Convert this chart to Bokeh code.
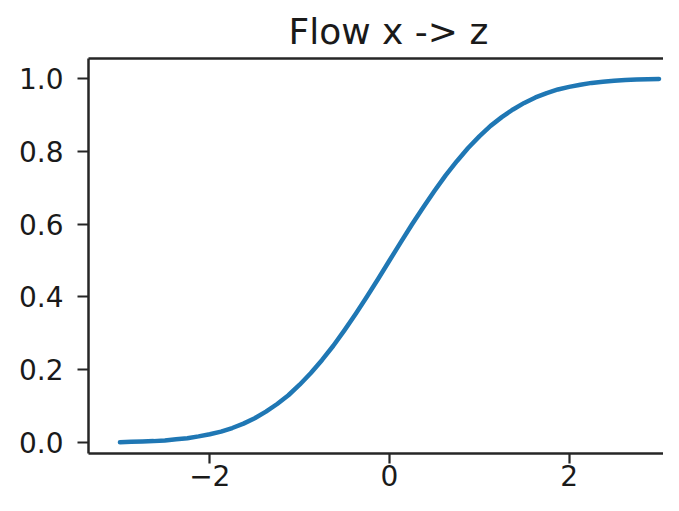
from bokeh.plotting import figure
from bokeh.models import Range1d, LinearAxis, FixedTicker, Title, NumeralTickFormatter
from bokeh.embed import file_html
from bokeh.resources import INLINE

# Data
x_vals = [-3.0, -2.875, -2.75, -2.625, -2.5, -2.375, -2.25, -2.125, -2.0, -1.875, -1.75, -1.625,
          -1.5, -1.375, -1.25, -1.125, -1.0, -0.875, -0.75, -0.625, -0.5, -0.375, -0.25, -0.125,
          0.0, 0.125, 0.25, 0.375, 0.5, 0.625, 0.75, 0.875, 1.0, 1.125, 1.25, 1.375,
          1.5, 1.625, 1.75, 1.875, 2.0, 2.125, 2.25, 2.375, 2.5, 2.625, 2.75, 2.875, 3.0]
z_vals = [0.001, 0.002, 0.003, 0.004, 0.006, 0.009, 0.012, 0.017, 0.023, 0.030, 0.040, 0.052,
          0.067, 0.085, 0.106, 0.130, 0.159, 0.191, 0.227, 0.266, 0.309, 0.354, 0.401, 0.450,
          0.500, 0.550, 0.599, 0.646, 0.691, 0.734, 0.773, 0.809, 0.841, 0.870, 0.894, 0.915,
          0.933, 0.948, 0.960, 0.970, 0.977, 0.983, 0.988, 0.991, 0.994, 0.996, 0.997, 0.998, 0.999]
x_ticks = [-2, 0, 2]
x_tick_labels = {-2: "\u22122", 0: "0", 2: "2"}
y_ticks = [0.0, 0.2, 0.4, 0.6, 0.8, 1.0]
title_text = "Flow x -> z"

FONT = "DejaVu Sans"
AX = "#262626"

p = figure(width=663, height=495, output_backend="svg", toolbar_location=None,
           x_range=Range1d(-3.35, 3.05), y_range=Range1d(-0.030, 1.055),
           x_axis_location=None, y_axis_location=None,
           min_border_left=88, min_border_right=0, min_border_top=58, min_border_bottom=42)
p.outline_line_color = None
p.grid.visible = False
p.background_fill_color = "white"
p.border_fill_color = "white"

p.line(x_vals, z_vals, line_color="#1f77b4", line_width=4.5, line_join="round", line_cap="round")

def style(ax):
    ax.axis_line_color = AX
    ax.axis_line_width = 2.5
    ax.major_tick_line_color = AX
    ax.major_tick_line_width = 2.2
    ax.major_tick_out = 11
    ax.major_tick_in = 0
    ax.minor_tick_line_color = None
    ax.major_label_text_font = FONT
    ax.major_label_text_font_size = "28px"
    ax.major_label_text_color = "#1a1a1a"

xa = LinearAxis(ticker=FixedTicker(ticks=x_ticks), major_label_overrides=x_tick_labels)
style(xa)
xa.major_tick_out = 10
xa.major_label_standoff = 1
p.add_layout(xa, "below")

ya = LinearAxis(ticker=FixedTicker(ticks=y_ticks), formatter=NumeralTickFormatter(format="0.0"))
style(ya)
ya.major_label_standoff = 14
p.add_layout(ya, "left")

top = LinearAxis(ticker=FixedTicker(ticks=[]))
top.axis_line_color = AX
top.axis_line_width = 2.5
top.major_tick_line_color = None
top.minor_tick_line_color = None
top.major_label_text_font_size = "0px"
p.add_layout(top, "above")

t = Title(text=title_text, align="left", offset=200, text_font=FONT,
          text_font_size="36px", text_font_style="normal", text_color="#1a1a1a",
          standoff=14)
p.add_layout(t, "above")

open("out.html", "w").write(file_html(p, INLINE))
